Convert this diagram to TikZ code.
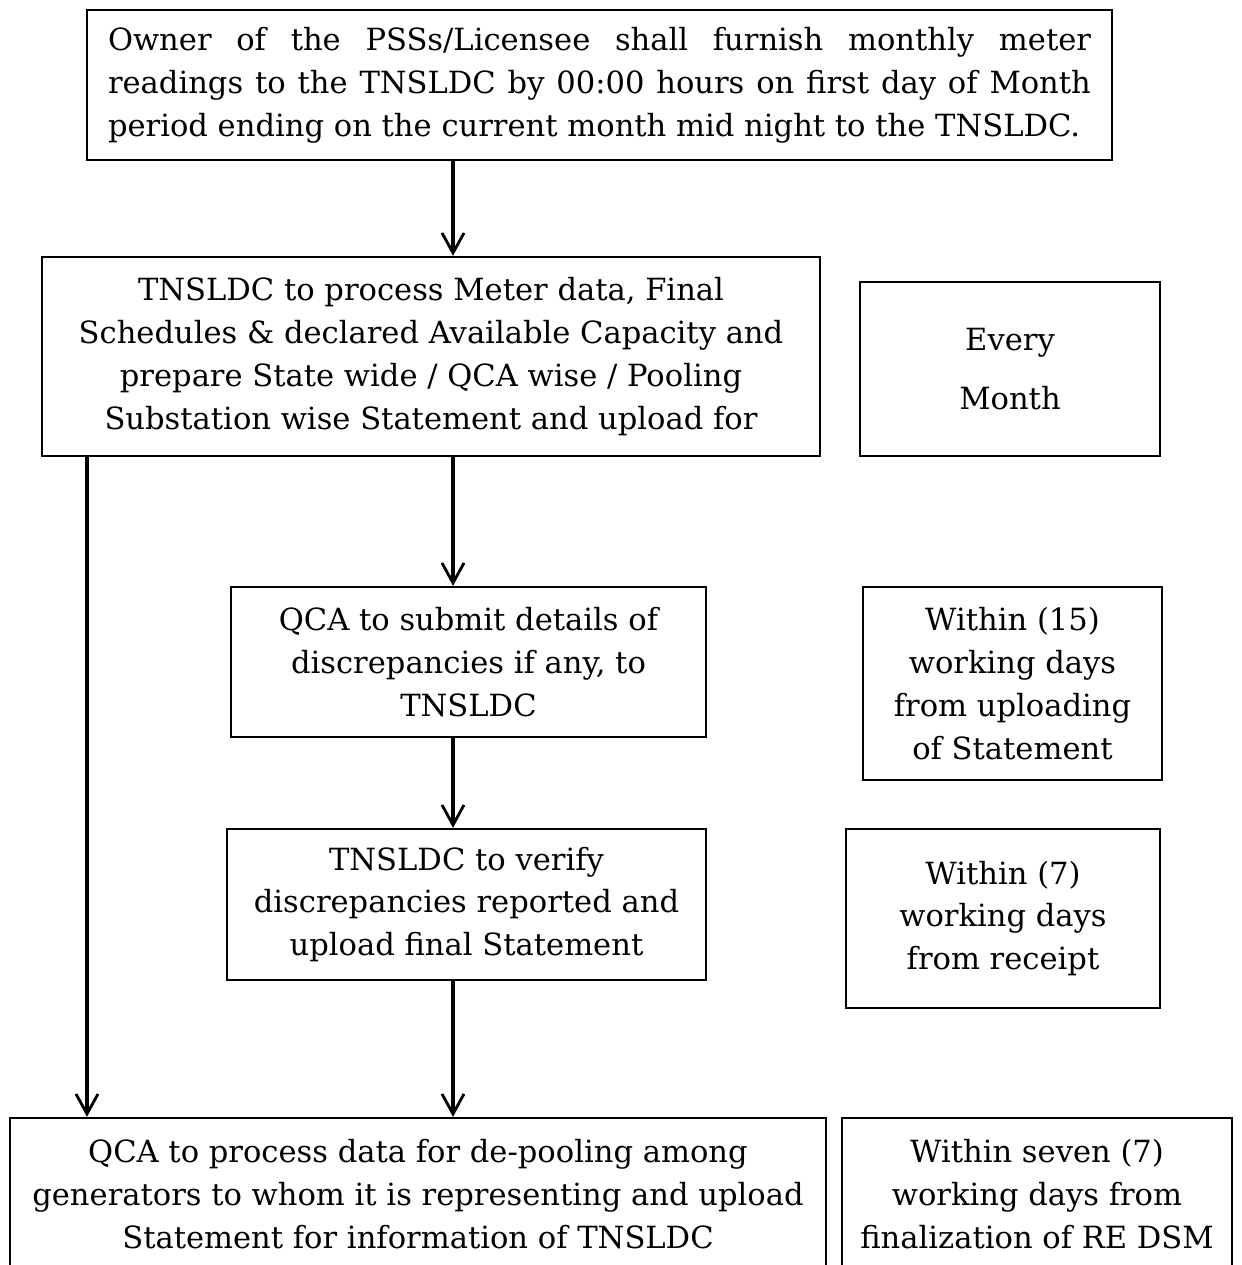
\documentclass[tikz,border=0pt]{standalone}
\usepackage{fontspec}
\setmainfont{DejaVu Serif}
\usetikzlibrary{arrows.meta}
\tikzset{
  stepbox/.style={draw, line width=1.3pt, align=center, inner sep=0pt},
  flowarrow/.style={line width=2pt, -{Straight Barb[length=0.4cm,width=0.44cm,line width=1.6pt]}}
}
\begin{document}
\begin{tikzpicture}
        \fontsize{17.4}{24.4}\selectfont
        % Page
        \clip (0,0) rectangle (24.84,-25.3);
        % Main steps
        \node[stepbox, minimum width=20.5cm, minimum height=3cm, text width=19.66cm, align=justify] (furnish) at (11.99,-1.7)
          {Owner of the PSSs/Licensee shall furnish monthly meter\linebreak readings to the TNSLDC by 00:00 hours on first day of Month\linebreak period ending on the current month mid night to the TNSLDC.};
        \node[stepbox, minimum width=15.56cm, minimum height=3.98cm] (process) at (8.62,-7.13)
          {TNSLDC to process Meter data, Final\\ Schedules \& declared Available Capacity and\\ prepare State wide / QCA wise / Pooling\\ Substation wise Statement and upload for};
        \node[stepbox, minimum width=9.5cm, minimum height=3cm] (submit) at (9.37,-13.24)
          {QCA to submit details of\\ discrepancies if any, to\\ TNSLDC};
        \node[stepbox, minimum width=9.58cm, minimum height=3.02cm] (verify) at (9.33,-18.09)
          {TNSLDC to verify\\ discrepancies reported and\\ upload final Statement};
        \node[stepbox, minimum width=16.32cm, minimum height=3.04cm] (depool) at (8.36,-23.88)
          {QCA to process data for de-pooling among\\ generators to whom it is representing and upload\\ Statement for information of TNSLDC};
        % Time limits
        \node[stepbox, minimum width=6cm, minimum height=3.48cm] (monthly) at (20.2,-7.38)
          {Every\\[0.34cm] Month};
        \node[stepbox, minimum width=5.98cm, minimum height=3.86cm] (within15) at (20.25,-13.67)
          {Within (15)\\ working days\\ from uploading\\ of Statement};
        \node[stepbox, minimum width=6.28cm, minimum height=3.58cm] (within7) at (20.06,-18.37)
          {Within (7)\\ working days\\ from receipt};
        \node[stepbox, minimum width=7.8cm, minimum height=3.04cm] (withinseven) at (20.74,-23.88)
          {Within seven (7)\\ working days from\\ finalization of RE DSM};
        % Arrows
        \coordinate (mid) at (9.06,0);
        \coordinate (left) at (1.74,0);
        \draw[flowarrow] (furnish.south -| mid) -- (process.north -| mid);
        \draw[flowarrow] (process.south -| mid) -- (submit.north -| mid);
        \draw[flowarrow] (submit.south -| mid) -- (verify.north -| mid);
        \draw[flowarrow] (verify.south -| mid) -- (depool.north -| mid);
        \draw[flowarrow] (process.south -| left) -- (depool.north -| left);
\end{tikzpicture}
\end{document}
